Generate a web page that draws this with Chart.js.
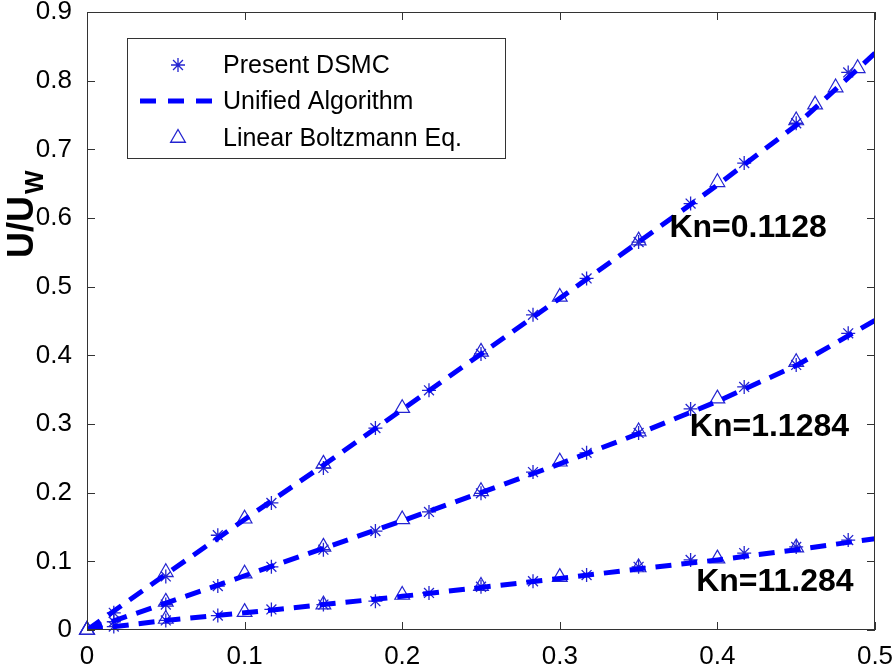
<!DOCTYPE html>
<html>
<head>
<meta charset="utf-8">
<script src="https://cdn.jsdelivr.net/npm/chart.js@4.4.1/dist/chart.umd.min.js"></script>
<style>
  body { margin: 0; background: #fff; }
  #wrap { width: 896px; height: 666px; }
</style>
</head>
<body>
<div id="wrap"><canvas id="myChart"></canvas></div>
<script>
// DSMC points (stars), same x for all three Kn
const xDsmc = [0.017, 0.05, 0.083, 0.117, 0.15, 0.183, 0.217, 0.25, 0.283, 0.317, 0.35, 0.383, 0.417, 0.45, 0.483];
const dsmcKn01 = [0.025, 0.078, 0.138, 0.185, 0.236, 0.294, 0.349, 0.402, 0.459, 0.512, 0.565, 0.621, 0.680, 0.738, 0.812];
const dsmcKn1 = [0.012, 0.037, 0.064, 0.092, 0.117, 0.144, 0.172, 0.199, 0.230, 0.258, 0.287, 0.322, 0.354, 0.386, 0.432];
const dsmcKn11 = [0.005, 0.014, 0.021, 0.030, 0.037, 0.042, 0.054, 0.063, 0.071, 0.080, 0.092, 0.102, 0.112, 0.121, 0.131];

// Linear Boltzmann points (triangles)
const xLbeKn01 = [0, 0.05, 0.1, 0.15, 0.2, 0.25, 0.3, 0.35, 0.4, 0.45, 0.462, 0.475, 0.489];
const lbeKn01 = [0, 0.084, 0.162, 0.242, 0.323, 0.405, 0.485, 0.567, 0.652, 0.742, 0.765, 0.790, 0.818];
const xLbe = [0, 0.05, 0.1, 0.15, 0.2, 0.25, 0.3, 0.35, 0.4, 0.45];
const lbeKn1 = [0, 0.041, 0.082, 0.121, 0.161, 0.202, 0.245, 0.289, 0.337, 0.390];
const lbeKn11 = [0, 0.016, 0.026, 0.037, 0.051, 0.064, 0.077, 0.091, 0.104, 0.120];

// Unified algorithm (dashed lines)
const xUa = [0, 0.05, 0.1, 0.15, 0.2, 0.25, 0.3, 0.35, 0.4, 0.45, 0.5];
const uaKn01 = [0, 0.081, 0.161, 0.240, 0.321, 0.402, 0.483, 0.565, 0.648, 0.735, 0.840];
const uaKn1 = [0, 0.039, 0.079, 0.119, 0.159, 0.200, 0.242, 0.286, 0.333, 0.385, 0.451];
const uaKn11 = [0, 0.014, 0.025, 0.037, 0.049, 0.062, 0.075, 0.089, 0.102, 0.117, 0.133];

const knLabels = ["Kn=0.1128", "Kn=1.1284", "Kn=11.284"];
const legendLabels = ["Present DSMC", "Unified Algorithm", "Linear Boltzmann Eq."];

const lineBlue = "#0000ff";
const markBlue = "#2424d0";
const FONT = "'Liberation Sans', Arial, sans-serif";

function pts(xs, ys) {
    return xs.map((x, i) => ({ x: x, y: ys[i] }));
}

function uaSet(ys) {
    return {
        data: pts(xUa, ys),
        showLine: true,
        borderColor: lineBlue,
        borderWidth: 5,
        borderDash: [16, 10],
        pointRadius: 0,
        fill: false,
    };
}
function starSet(ys) {
    return {
        data: pts(xDsmc, ys),
        showLine: false,
        pointStyle: "star",
        pointRadius: 7,
        borderWidth: 1.3,
        borderColor: markBlue,
        backgroundColor: markBlue,
        clip: false,
    };
}
function triSet(xs, ys) {
    return {
        data: pts(xs, ys),
        showLine: false,
        pointStyle: "triangle",
        pointRadius: 8.5,
        borderWidth: 1.2,
        borderColor: markBlue,
        backgroundColor: "rgba(0,0,0,0)",
        clip: false,
    };
}

const decor = {
    id: "decor",
    afterDatasetsDraw(chart) {
        const ctx = chart.ctx;
        const a = chart.chartArea;
        const xs = chart.scales.x, ys = chart.scales.y;
        ctx.save();

        // frame with inward ticks
        ctx.strokeStyle = "#333";
        ctx.lineWidth = 1;
        ctx.strokeRect(a.left + 0.5, a.top + 0.5, a.right - a.left - 1, a.bottom - a.top - 1);
        ctx.beginPath();
        xs.ticks.forEach(t => {
            const px = Math.round(xs.getPixelForValue(t.value)) + 0.5;
            ctx.moveTo(px, a.bottom); ctx.lineTo(px, a.bottom - 8);
            ctx.moveTo(px, a.top); ctx.lineTo(px, a.top + 8);
        });
        ys.ticks.forEach(t => {
            const py = Math.round(ys.getPixelForValue(t.value)) + 0.5;
            ctx.moveTo(a.left, py); ctx.lineTo(a.left + 8, py);
            ctx.moveTo(a.right, py); ctx.lineTo(a.right - 8, py);
        });
        ctx.stroke();

        // Kn annotations
        const knPos = [[0.4195, 0.585], [0.433, 0.295], [0.4365, 0.07]];
        ctx.fillStyle = "#000";
        ctx.font = "bold 32px " + FONT;
        ctx.textAlign = "center";
        ctx.textBaseline = "middle";
        knLabels.forEach((s, i) => {
            ctx.fillText(s, xs.getPixelForValue(knPos[i][0]), ys.getPixelForValue(knPos[i][1]));
        });

        // legend box
        ctx.fillStyle = "#fff";
        ctx.fillRect(127, 38, 378, 120);
        ctx.strokeStyle = "#333";
        ctx.strokeRect(127.5, 38.5, 378, 120);
        const rowY = [65, 101, 138];
        ctx.strokeStyle = markBlue;
        ctx.lineWidth = 1.3;
        Chart.helpers.drawPoint(ctx, { pointStyle: "star", radius: 7, rotation: 0, borderWidth: 1.3 }, 178, rowY[0]);
        Chart.helpers.drawPoint(ctx, { pointStyle: "triangle", radius: 8.5, rotation: 0, borderWidth: 1.2 }, 178, rowY[2]);
        ctx.strokeStyle = lineBlue;
        ctx.lineWidth = 5;
        ctx.setLineDash([16, 12]);
        ctx.beginPath();
        ctx.moveTo(140, rowY[1]); ctx.lineTo(212, rowY[1]);
        ctx.stroke();
        ctx.setLineDash([]);
        ctx.fillStyle = "#000";
        ctx.font = "25px " + FONT;
        ctx.textAlign = "left";
        ctx.textBaseline = "middle";
        legendLabels.forEach((s, i) => ctx.fillText(s, 223, rowY[i] + 1));

        // y axis title U/U_w
        ctx.translate(33, 258);
        ctx.rotate(-Math.PI / 2);
        ctx.textBaseline = "alphabetic";
        ctx.font = "bold 36px " + FONT;
        ctx.fillText("U/U", 0, 0);
        const w = ctx.measureText("U/U").width;
        ctx.font = "bold 25px " + FONT;
        ctx.fillText("W", w + 2, 10);
        ctx.restore();
    },
};

new Chart("myChart", {
    type: "scatter",
    data: {
        datasets: [
            uaSet(uaKn01), uaSet(uaKn1), uaSet(uaKn11),
            starSet(dsmcKn01), starSet(dsmcKn1), starSet(dsmcKn11),
            triSet(xLbeKn01, lbeKn01), triSet(xLbe, lbeKn1), triSet(xLbe, lbeKn11),
        ],
    },
    options: {
        responsive: true,
        maintainAspectRatio: false,
        animation: false,
        layout: { padding: { top: 12, right: 21, left: 0, bottom: 0 } },
        plugins: { legend: { display: false }, tooltip: { enabled: false } },
        scales: {
            x: {
                type: "linear",
                min: 0,
                max: 0.5,
                grid: { display: false },
                border: { display: false },
                ticks: { stepSize: 0.1, color: "#000", padding: 3, font: { size: 26, family: FONT } },
                afterFit: s => { s.height = 36; s.paddingLeft = 0; s.paddingRight = 0; },
            },
            y: {
                min: 0,
                max: 0.9,
                grid: { display: false },
                border: { display: false },
                ticks: { stepSize: 0.1, color: "#000", padding: 7, font: { size: 26, family: FONT } },
                afterFit: s => { s.width = 87; s.paddingTop = 0; s.paddingBottom = 0; },
            },
        },
    },
    plugins: [decor],
});
</script>
</body>
</html>
